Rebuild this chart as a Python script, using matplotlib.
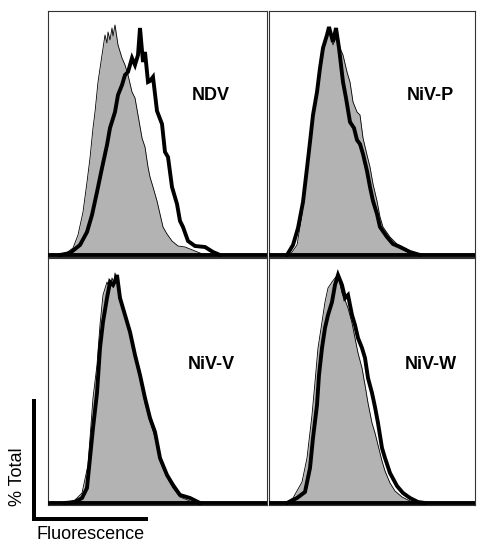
#!/usr/bin/env python

"""
    plot.py:
        - flow cytometry overlays (control vs. NDV / NiV-P / NiV-V / NiV-W)
"""

import numpy as np
import matplotlib
matplotlib.use("Agg")
import matplotlib.pyplot as plt
import matplotlib.patches as mpatches

plt.rcParams["font.family"] = ["Liberation Sans", "DejaVu Sans"]

################################################################################
# Data (channel, counts)
################################################################################
panel_names = ["NDV", "NiV-P", "NiV-V", "NiV-W"]

# NDV
ndv_ctrl_x = [12, 17, 25, 30, 35, 39, 42, 45, 47, 50, 54, 57, 59, 60, 62, 64, 65, 67, 70, 74,
              77, 80, 84, 87, 90, 94, 97, 100, 102, 105, 109, 112, 115, 119, 124, 130, 137,
              147, 152, 157]
ndv_ctrl_y = [0, 1, 7, 20, 43, 73, 97, 127, 143, 173, 200, 220, 212, 223, 215, 227, 219, 230,
              210, 197, 190, 180, 163, 157, 140, 117, 108, 88, 78, 68, 54, 41, 28, 21, 14, 9,
              8, 4, 2, 0]
ndv_samp_x = [12, 22, 32, 39, 44, 49, 54, 59, 62, 67, 70, 74, 77, 80, 84, 87, 90, 92, 95, 97,
              100, 102, 105, 109, 114, 117, 120, 124, 129, 132, 135, 140, 147, 157, 165, 172]
ndv_samp_y = [0, 2, 10, 23, 40, 63, 87, 110, 127, 143, 160, 170, 180, 183, 197, 190, 200, 227,
              193, 203, 173, 174, 178, 144, 131, 103, 98, 68, 51, 34, 28, 14, 9, 8, 3, 0]

# NiV-P
nivp_ctrl_x = [21, 28, 33, 38, 43, 48, 53, 58, 61, 64, 68, 71, 74, 78, 81, 84, 88, 91, 94, 98,
               101, 104, 108, 111, 114, 121, 128, 134, 141, 149]
nivp_ctrl_y = [0, 10, 40, 90, 130, 163, 197, 220, 228, 210, 220, 207, 200, 183, 173, 153, 143,
               140, 117, 100, 88, 71, 54, 38, 28, 18, 11, 8, 4, 0]
nivp_samp_x = [18, 24, 29, 34, 38, 41, 44, 48, 51, 54, 58, 60, 64, 67, 70, 74, 77, 81, 85, 88,
               91, 94, 98, 101, 104, 108, 111, 118, 124, 131, 141, 151]
nivp_samp_y = [0, 10, 27, 53, 87, 113, 140, 163, 187, 207, 220, 228, 213, 227, 207, 173, 157,
               133, 127, 115, 111, 101, 84, 68, 54, 41, 28, 18, 11, 8, 3, 0]

# NiV-V
nivv_ctrl_x = [17, 27, 34, 40, 45, 49, 52, 55, 59, 62, 64, 66, 67, 70, 74, 77, 82, 87, 92, 97,
               102, 107, 112, 119, 125, 132, 142, 149]
nivv_ctrl_y = [0, 3, 10, 38, 105, 138, 178, 208, 221, 214, 225, 220, 230, 218, 200, 186, 170,
               147, 125, 100, 82, 66, 42, 26, 15, 6, 2, 0]
nivv_samp_x = [17, 27, 34, 39, 42, 45, 49, 52, 55, 59, 62, 65, 67, 69, 72, 77, 82, 87, 92, 97,
               102, 107, 112, 119, 125, 132, 142, 152]
nivv_samp_y = [0, 1, 5, 15, 45, 75, 110, 155, 181, 205, 221, 218, 222, 228, 205, 188, 171, 148,
               128, 105, 85, 71, 45, 28, 18, 8, 5, 0]

# NiV-W
nivw_ctrl_x = [16, 24, 33, 38, 43, 46, 49, 53, 56, 59, 63, 66, 69, 73, 76, 79, 83, 86, 89, 93,
               96, 99, 103, 106, 109, 113, 116, 121, 126, 133, 139, 146]
nivw_ctrl_y = [0, 5, 21, 45, 88, 121, 155, 181, 201, 215, 221, 225, 228, 210, 203, 195, 180, 165,
               150, 135, 118, 100, 80, 70, 58, 42, 32, 20, 12, 6, 3, 0]
nivw_samp_x = [18, 28, 36, 41, 44, 48, 50, 53, 56, 59, 63, 66, 69, 73, 76, 79, 83, 86, 89, 93,
               96, 99, 103, 106, 109, 113, 116, 121, 128, 134, 141, 149, 156]
nivw_samp_y = [0, 5, 11, 35, 65, 98, 128, 155, 175, 188, 201, 218, 228, 218, 205, 208, 188, 178,
               165, 155, 145, 125, 110, 96, 80, 55, 45, 30, 17, 10, 5, 1, 0]

ctrl_x = [ndv_ctrl_x, nivp_ctrl_x, nivv_ctrl_x, nivw_ctrl_x]
ctrl_y = [ndv_ctrl_y, nivp_ctrl_y, nivv_ctrl_y, nivw_ctrl_y]
samp_x = [ndv_samp_x, nivp_samp_x, nivv_samp_x, nivw_samp_x]
samp_y = [ndv_samp_y, nivp_samp_y, nivv_samp_y, nivw_samp_y]

################################################################################
# FIGURE
################################################################################
W, H = 478, 542
fig = plt.figure(figsize=(W / 100, H / 100), dpi=100)

# panel boxes in pixels: (left, top, right, bottom)
boxes = [(48, 11, 267, 257), (269, 11, 475, 257),
         (48, 258, 267, 505), (269, 258, 475, 505)]
ytops = [244, 244, 245, 245]
label_pos = [(163, 155), (161, 155), (163, 134), (162, 134)]

for i, (l, t, r, b) in enumerate(boxes):
    ax = fig.add_axes([l / W, 1 - b / H, (r - l) / W, (b - t) / H])
    ax.fill_between(ctrl_x[i], ctrl_y[i], 0, color="#b3b3b3", lw=0, zorder=1)
    ax.plot(ctrl_x[i], ctrl_y[i], color="k", lw=0.6, zorder=2)
    ax.axhline(0, color="k", lw=2.8, zorder=3)
    ax.plot(samp_x[i], samp_y[i], color="k", lw=2.8, solid_joinstyle="miter", zorder=3)
    ax.text(*label_pos[i], panel_names[i], fontsize=13, fontweight="bold",
            ha="center", va="baseline")
    ax.set_xlim(0, r - l)
    ax.set_ylim(-2, ytops[i])
    ax.set_xticks([])
    ax.set_yticks([])
    for s in ax.spines.values():
        s.set_linewidth(0.8)
        s.set_color("#333333")

################################################################################
# Axis key (% Total / Fluorescence)
################################################################################
key = fig.add_axes([0, 0, 1, 1], facecolor="none")
key.set_xlim(0, W)
key.set_ylim(H, 0)
key.axis("off")
key.add_patch(mpatches.Rectangle((32, 399), 4.3, 122, color="k", lw=0))
key.add_patch(mpatches.Rectangle((32, 517), 116, 4.3, color="k", lw=0))
key.text(91, 539, "Fluorescence", fontsize=13, ha="center", va="baseline")
key.text(17.5, 477, "% Total", fontsize=13, rotation=90, ha="center", va="center")

plt.savefig("out.png", dpi=100)
plt.close()
